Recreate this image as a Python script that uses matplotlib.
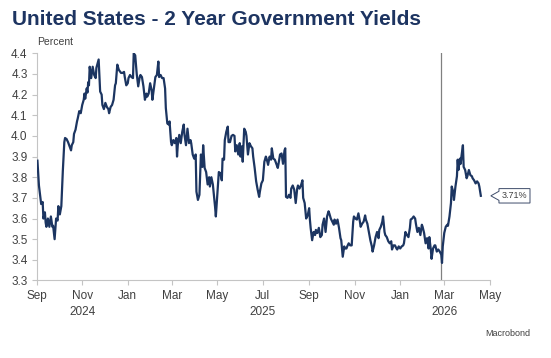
import matplotlib
matplotlib.use("Agg")
import matplotlib.pyplot as plt
from matplotlib.path import Path
from matplotlib.ticker import FormatStrFormatter
import pandas as pd

title = "United States - 2 Year Government Yields"
unit = "Percent"
source = "Macrobond"
marker_date = "2026-02-25"
x_start, x_end = "2024-09-01", "2026-05-01"
y_ticks = [3.3, 3.4, 3.5, 3.6, 3.7, 3.8, 3.9, 4.0, 4.1, 4.2, 4.3, 4.4]
year_labels = {"2024-11": "2024", "2025-07": "2025", "2026-03": "2026"}

# (month-day, yield %)
yields_2024 = [
    ("09-02", 3.88), ("09-04", 3.76), ("09-05", 3.73), ("09-07", 3.67), ("09-09", 3.68),
    ("09-10", 3.60), ("09-12", 3.63), ("09-13", 3.58), ("09-14", 3.56), ("09-16", 3.60),
    ("09-18", 3.56), ("09-20", 3.61), ("09-22", 3.56), ("09-23", 3.565), ("09-25", 3.50),
    ("09-27", 3.60), ("09-29", 3.59), ("09-30", 3.66), ("10-02", 3.62), ("10-04", 3.66),
    ("10-06", 3.83), ("10-08", 3.97), ("10-09", 3.99), ("10-11", 3.985), ("10-13", 3.97),
    ("10-15", 3.95), ("10-17", 3.93), ("10-18", 3.955), ("10-20", 3.97), ("10-21", 4.01),
    ("10-23", 4.03), ("10-25", 4.07), ("10-26", 4.085), ("10-28", 4.12), ("10-30", 4.11),
    ("11-01", 4.15), ("11-03", 4.175), ("11-04", 4.205), ("11-05", 4.18), ("11-07", 4.23),
    ("11-08", 4.21), ("11-09", 4.26), ("11-10", 4.245), ("11-11", 4.335), ("11-13", 4.28),
    ("11-15", 4.335), ("11-17", 4.295), ("11-19", 4.28), ("11-20", 4.33), ("11-23", 4.37),
    ("11-25", 4.215), ("11-27", 4.20), ("11-28", 4.15), ("11-30", 4.13), ("12-02", 4.16),
    ("12-04", 4.14), ("12-06", 4.13), ("12-07", 4.11), ("12-09", 4.14), ("12-11", 4.15),
    ("12-13", 4.175), ("12-15", 4.245), ("12-16", 4.255), ("12-18", 4.345), ("12-20", 4.32),
    ("12-22", 4.31), ("12-23", 4.305), ("12-25", 4.305), ("12-27", 4.31), ("12-28", 4.285),
    ("12-30", 4.245),
]
yields_2025 = [
    ("01-01", 4.255), ("01-02", 4.28), ("01-04", 4.295), ("01-06", 4.285), ("01-08", 4.28),
    ("01-09", 4.40), ("01-11", 4.39), ("01-13", 4.30), ("01-15", 4.24), ("01-17", 4.285),
    ("01-18", 4.295), ("01-20", 4.285), ("01-22", 4.24), ("01-24", 4.175), ("01-26", 4.205),
    ("01-27", 4.19), ("01-29", 4.205), ("01-31", 4.255), ("02-02", 4.22), ("02-03", 4.175),
    ("02-05", 4.23), ("02-07", 4.285), ("02-09", 4.295), ("02-11", 4.36), ("02-12", 4.285),
    ("02-14", 4.295), ("02-16", 4.28), ("02-18", 4.28), ("02-20", 4.23), ("02-21", 4.135),
    ("02-23", 4.06), ("02-25", 4.055), ("02-26", 4.07), ("02-28", 3.97), ("03-01", 3.955),
    ("03-03", 3.98), ("03-05", 3.965), ("03-07", 3.99), ("03-08", 3.90), ("03-09", 3.955),
    ("03-11", 4.005), ("03-13", 3.965), ("03-15", 4.02), ("03-17", 4.055), ("03-18", 4.005),
    ("03-20", 3.955), ("03-22", 4.035), ("03-24", 3.965), ("03-26", 3.98), ("03-27", 3.965),
    ("03-29", 3.91), ("03-31", 3.89), ("04-02", 3.91), ("04-03", 3.73), ("04-05", 3.69),
    ("04-07", 3.715), ("04-09", 3.91), ("04-11", 3.85), ("04-12", 3.955), ("04-14", 3.845),
    ("04-16", 3.825), ("04-18", 3.765), ("04-20", 3.80), ("04-21", 3.755), ("04-23", 3.80),
    ("04-25", 3.765), ("04-28", 3.655), ("04-29", 3.61), ("05-01", 3.72), ("05-03", 3.825),
    ("05-05", 3.82), ("05-07", 3.785), ("05-08", 3.89), ("05-10", 3.885), ("05-11", 3.98),
    ("05-13", 4.02), ("05-15", 4.045), ("05-16", 3.97), ("05-18", 3.97), ("05-20", 4.00),
    ("05-22", 4.005), ("05-24", 4.00), ("05-25", 3.925), ("05-27", 3.955), ("05-29", 3.91),
    ("05-31", 3.965), ("06-01", 3.90), ("06-03", 3.95), ("06-04", 3.875), ("06-06", 4.035),
    ("06-08", 4.02), ("06-09", 4.00), ("06-11", 3.91), ("06-13", 3.965), ("06-15", 3.95),
    ("06-17", 3.94), ("06-18", 3.90), ("06-20", 3.845), ("06-22", 3.78), ("06-24", 3.74),
    ("06-26", 3.705), ("06-27", 3.73), ("06-29", 3.77), ("07-01", 3.785), ("07-03", 3.875),
    ("07-05", 3.90), ("07-06", 3.89), ("07-08", 3.86), ("07-10", 3.90), ("07-12", 3.885),
    ("07-13", 3.94), ("07-15", 3.89), ("07-17", 3.885), ("07-19", 3.865), ("07-21", 3.845),
    ("07-22", 3.865), ("07-24", 3.91), ("07-26", 3.915), ("07-28", 3.865), ("07-30", 3.93),
    ("07-31", 3.94), ("08-01", 3.705), ("08-03", 3.70), ("08-05", 3.715), ("08-07", 3.70),
    ("08-08", 3.745), ("08-10", 3.76), ("08-12", 3.74), ("08-14", 3.675), ("08-16", 3.745),
    ("08-17", 3.76), ("08-19", 3.745), ("08-21", 3.76), ("08-23", 3.785), ("08-24", 3.70),
    ("08-26", 3.675), ("08-28", 3.60), ("08-30", 3.615), ("09-01", 3.65), ("09-02", 3.595),
    ("09-03", 3.555), ("09-05", 3.495), ("09-07", 3.535), ("09-09", 3.52), ("09-10", 3.545),
    ("09-12", 3.53), ("09-14", 3.555), ("09-16", 3.51), ("09-18", 3.52), ("09-19", 3.57),
    ("09-21", 3.60), ("09-23", 3.535), ("09-25", 3.61), ("09-27", 3.635), ("09-28", 3.625),
    ("09-30", 3.60), ("10-02", 3.585), ("10-04", 3.57), ("10-05", 3.595), ("10-07", 3.575),
    ("10-09", 3.595), ("10-11", 3.555), ("10-13", 3.505), ("10-14", 3.495), ("10-16", 3.415),
    ("10-18", 3.465), ("10-19", 3.455), ("10-21", 3.455), ("10-22", 3.465), ("10-24", 3.48),
    ("10-26", 3.47), ("10-28", 3.47), ("10-30", 3.585), ("10-31", 3.61), ("11-02", 3.60),
    ("11-04", 3.595), ("11-06", 3.625), ("11-08", 3.585), ("11-09", 3.56), ("11-11", 3.575),
    ("11-13", 3.585), ("11-15", 3.615), ("11-16", 3.595), ("11-18", 3.575), ("11-20", 3.535),
    ("11-22", 3.495), ("11-24", 3.465), ("11-25", 3.44), ("11-27", 3.47), ("11-29", 3.51),
    ("12-01", 3.535), ("12-03", 3.505), ("12-04", 3.545), ("12-06", 3.56), ("12-08", 3.585),
    ("12-09", 3.61), ("12-11", 3.535), ("12-12", 3.52), ("12-14", 3.51), ("12-16", 3.49),
    ("12-18", 3.48), ("12-20", 3.49), ("12-21", 3.45), ("12-23", 3.47), ("12-25", 3.47),
    ("12-27", 3.455), ("12-28", 3.45), ("12-30", 3.465),
]
yields_2026 = [
    ("01-01", 3.455), ("01-03", 3.465), ("01-05", 3.47), ("01-06", 3.48), ("01-08", 3.535),
    ("01-10", 3.52), ("01-12", 3.51), ("01-14", 3.555), ("01-15", 3.595), ("01-17", 3.60),
    ("01-19", 3.61), ("01-21", 3.60), ("01-22", 3.575), ("01-24", 3.535), ("01-26", 3.555),
    ("01-28", 3.52), ("01-30", 3.57), ("01-31", 3.56), ("02-02", 3.53), ("02-04", 3.48),
    ("02-06", 3.505), ("02-08", 3.455), ("02-09", 3.51), ("02-11", 3.45), ("02-12", 3.405),
    ("02-14", 3.455), ("02-16", 3.47), ("02-17", 3.47), ("02-19", 3.44), ("02-21", 3.45),
    ("02-23", 3.44), ("02-25", 3.425), ("02-26", 3.385), ("02-27", 3.465), ("03-01", 3.53),
    ("03-03", 3.56), ("03-05", 3.57), ("03-06", 3.565), ("03-08", 3.61), ("03-10", 3.675),
    ("03-11", 3.755), ("03-13", 3.73), ("03-14", 3.69), ("03-16", 3.755), ("03-18", 3.805),
    ("03-19", 3.885), ("03-20", 3.835), ("03-22", 3.89), ("03-23", 3.865), ("03-24", 3.90),
    ("03-26", 3.955), ("03-27", 3.85), ("03-29", 3.835), ("03-31", 3.795), ("04-01", 3.805),
    ("04-03", 3.835), ("04-05", 3.81), ("04-07", 3.805), ("04-08", 3.795), ("04-10", 3.785),
    ("04-12", 3.77), ("04-14", 3.78), ("04-16", 3.77), ("04-17", 3.755), ("04-19", 3.71),
]

navy = "#1c3561"
grey_text = "#404040"
axis_grey = "#c4c4c4"

plt.rcParams["font.family"] = ["Liberation Sans", "DejaVu Sans"]

rows = []
for year, pts in (("2024", yields_2024), ("2025", yields_2025), ("2026", yields_2026)):
    for md, v in pts:
        rows.append((pd.Timestamp(year + "-" + md), v))
df = pd.DataFrame(rows, columns=["date", "yield"])


def callout(x0, y0, width, height, mutation_size):
    # box with a small pointer on the left side
    pad = 0.3 * mutation_size
    x0, y0 = x0 - pad, y0 - pad
    x1, y1 = x0 + width + 2 * pad, y0 + height + 2 * pad
    ym = (y0 + y1) / 2
    tip = 0.9 * mutation_size
    half = 0.5 * mutation_size
    verts = [(x0, y0), (x1, y0), (x1, y1), (x0, y1), (x0, ym + half),
             (x0 - tip, ym), (x0, ym - half), (x0, y0), (x0, y0)]
    codes = [Path.MOVETO] + [Path.LINETO] * 7 + [Path.CLOSEPOLY]
    return Path(verts, codes)


fig = plt.figure(figsize=(5.51, 3.58), dpi=100)
ax = fig.add_axes([0.0666, 0.2165, 0.8223, 0.6346])

ax.plot(df["date"], df["yield"], color=navy, lw=1.6, solid_joinstyle="round", zorder=3)
ax.axvline(pd.Timestamp(marker_date), color="#808080", lw=0.9, zorder=2)

ax.set_xlim(pd.Timestamp(x_start), pd.Timestamp(x_end))
ax.set_ylim(y_ticks[0], y_ticks[-1])
ax.set_yticks(y_ticks)
ax.yaxis.set_major_formatter(FormatStrFormatter("%.1f"))

ticks = pd.date_range(x_start, x_end, freq="2MS")
labels = []
for t in ticks:
    lab = t.strftime("%b")
    key = t.strftime("%Y-%m")
    if key in year_labels:
        lab += "\n" + year_labels[key]
    labels.append(lab)
ax.set_xticks(ticks)
ax.set_xticklabels(labels, linespacing=1.45)

for s in ("top", "right"):
    ax.spines[s].set_visible(False)
for s in ("left", "bottom"):
    ax.spines[s].set_color(axis_grey)
    ax.spines[s].set_linewidth(0.8)
ax.tick_params(axis="both", color=axis_grey, labelcolor=grey_text, labelsize=8.5,
               length=3.5, width=0.8, pad=3)

last = df.iloc[-1]
ax.annotate(f"{last['yield']:.2f}%", xy=(last["date"], last["yield"]),
            xytext=(15, 0), textcoords="offset points", ha="left", va="center",
            fontsize=6.5, color=grey_text, annotation_clip=False,
            bbox=dict(boxstyle=callout, fc="white", ec="#3e4c6a", lw=0.7))

fig.text(12 / 551, 1 - 25 / 358, title, fontsize=15, fontweight="bold",
         color="#1d3461", va="baseline", ha="left")
fig.text(37 / 551, 1 - 45 / 358, unit, fontsize=7.5, color=grey_text,
         va="baseline", ha="left")
fig.text(530 / 551, 1 - 333 / 358, source, fontsize=6.5, color=grey_text,
         va="center", ha="right")

fig.savefig("out.png", dpi=100, facecolor="white")
